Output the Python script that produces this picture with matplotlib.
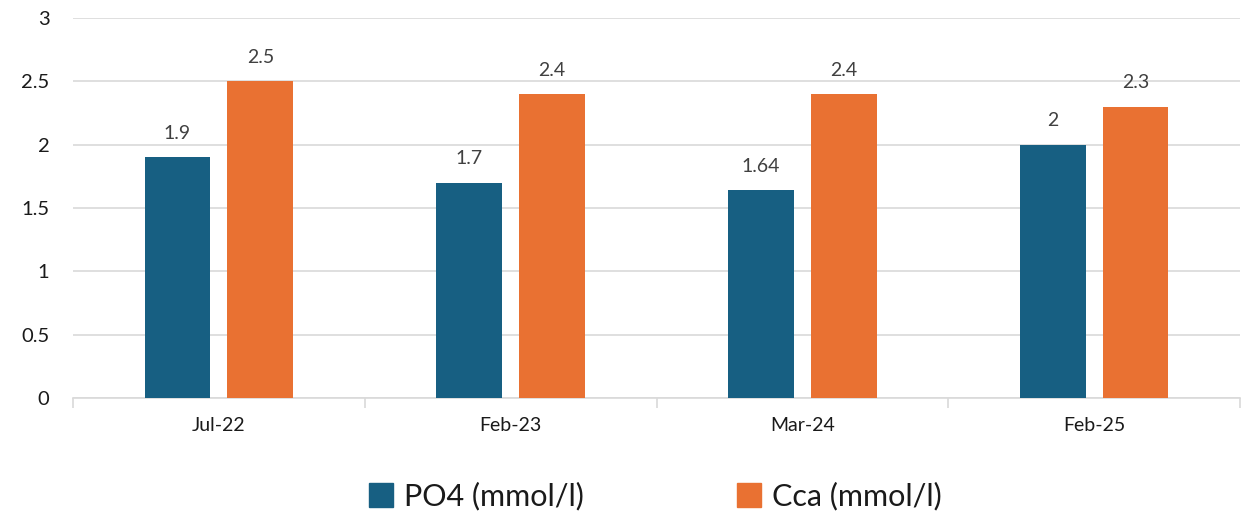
import numpy as np
import matplotlib.pyplot as plt
from matplotlib.patches import Patch

plt.rcParams['font.family'] = ['Lato', 'DejaVu Sans']

dates = ['Jul-22', 'Feb-23', 'Mar-24', 'Feb-25']
po4 = [1.9, 1.7, 1.64, 2]
cca = [2.5, 2.4, 2.4, 2.3]
po4_lbl = ['1.9', '1.7', '1.64', '2']
cca_lbl = ['2.5', '2.4', '2.4', '2.3']

c_po4 = '#175F82'
c_cca = '#E97132'

fig = plt.figure(figsize=(12.53, 5.17), dpi=100)
ax = fig.add_axes([0.0583, 0.2302, 0.9313, 0.735])

x = np.arange(len(dates))
w = 0.226
off = 0.142
b1 = ax.bar(x - off, po4, w, color=c_po4, zorder=3)
b2 = ax.bar(x + off, cca, w, color=c_cca, zorder=3)

for bars, lbls in ((b1, po4_lbl), (b2, cca_lbl)):
    for b, l in zip(bars, lbls):
        ax.annotate(l, (b.get_x() + b.get_width() / 2, b.get_height()),
                    xytext=(0, 11), textcoords='offset points',
                    ha='center', va='bottom', fontsize=14, color='#404040')

ax.set_xlim(-0.5, len(dates) - 0.5)
ax.set_ylim(0, 3)
ax.set_yticks(np.arange(0, 3.01, 0.5))
ax.set_yticklabels(['0', '0.5', '1', '1.5', '2', '2.5', '3'])
ax.yaxis.grid(True, color='#D9D9D9', lw=1.2, zorder=0)
ax.tick_params(axis='y', length=0, labelsize=14.5, pad=17, labelcolor='#1a1a1a')

ax.set_xticks(x)
ax.set_xticklabels(dates)
ax.tick_params(axis='x', length=0, labelsize=14, pad=14, labelcolor='#1a1a1a')
ax.set_xticks(np.arange(-0.5, len(dates), 1), minor=True)
ax.tick_params(axis='x', which='minor', length=7, color='#D9D9D9', width=1.2)

for s in ['top', 'right', 'left']:
    ax.spines[s].set_visible(False)
ax.spines['bottom'].set_color('#D9D9D9')
ax.spines['bottom'].set_linewidth(1.2)

handles = [Patch(color=c_po4, label='PO4 (mmol/l)'), Patch(color=c_cca, label='Cca (mmol/l)')]
fig.legend(handles=handles, loc='center', bbox_to_anchor=(0.523, 0.04), ncol=2,
           frameon=False, fontsize=22, handlelength=0.8, handleheight=0.8,
           handletextpad=0.35, columnspacing=5.0, labelcolor='#1a1a1a')

fig.savefig('out.png', dpi=100)
